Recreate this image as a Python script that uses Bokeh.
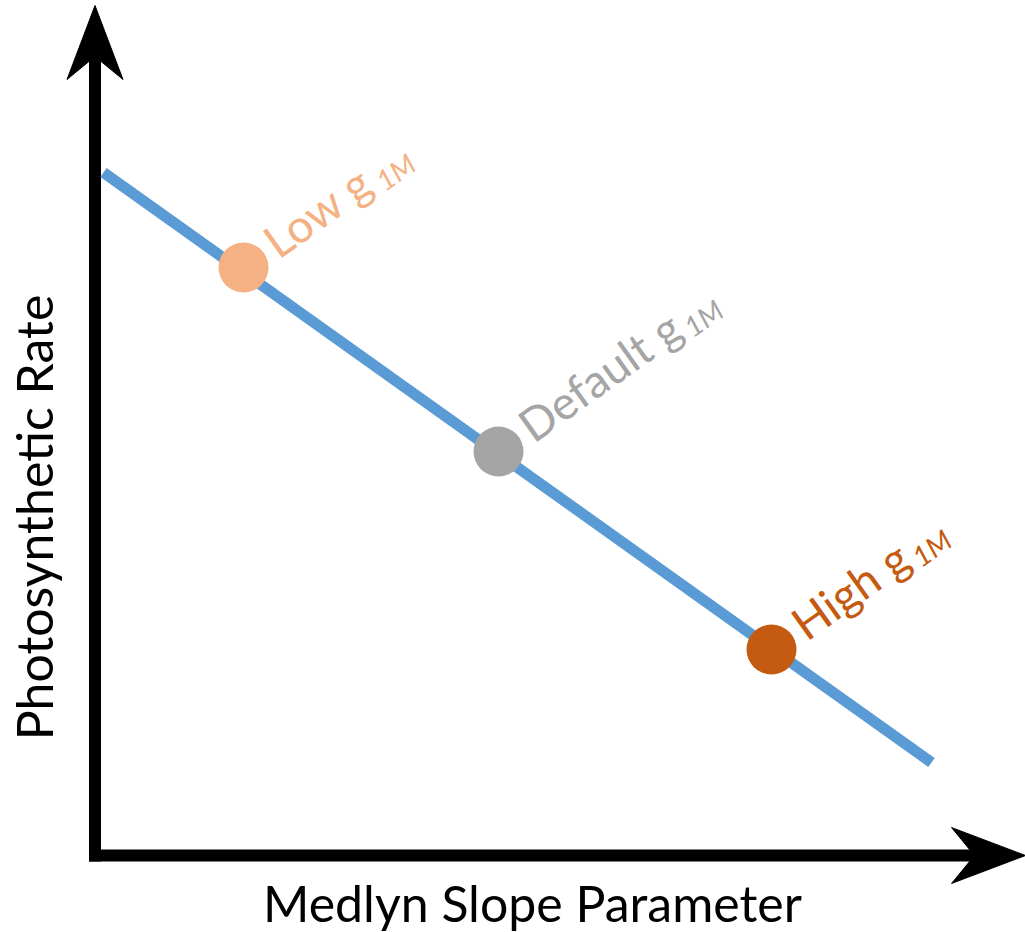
import numpy as np
from bokeh.plotting import figure
from bokeh.models import Range1d, ColumnDataSource
from bokeh.core.properties import value
from bokeh.embed import file_html
from bokeh.resources import INLINE

W, H = 1025, 932
FONT = "Lato"

# ---- data (screen-like units, y pointing up) ----
line_x = [103, 931]
line_y = [760, 170]

labels = ["Low", "Default", "High"]
point_x = [243, 498, 771]
point_y = [665, 481, 283]
point_colors = ["#F4B183", "#A5A5A5", "#C55A11"]
main_text = ["Low g", "Default g", "High g"]
sub_text = ["1M", "1M", "1M"]
sub_along = [159, 224, 169]

x_label = "Medlyn Slope Parameter"
y_label = "Photosynthetic Rate"

# axis geometry
origin_x, origin_y = 94.5, 77
x_tip, y_tip = 1025, 927
head_len, head_notch, head_half = 74, 51, 28
axis_w = 12

p = figure(width=W, height=H, x_range=Range1d(0, W), y_range=Range1d(0, H),
           output_backend="svg", toolbar_location=None, min_border=0)
p.axis.visible = False
p.grid.visible = False
p.outline_line_color = None

# axis shafts
p.segment(x0=[origin_x, origin_x - axis_w / 2], y0=[origin_y - axis_w / 2, origin_y],
          x1=[origin_x, x_tip - head_notch + 2], y1=[y_tip - head_notch + 2, origin_y],
          line_color="black", line_width=axis_w, line_cap="butt")
# arrowheads
hx = [[origin_x, origin_x - head_half, origin_x, origin_x + head_half],
      [x_tip, x_tip - head_len, x_tip - head_notch, x_tip - head_len]]
hy = [[y_tip, y_tip - head_len, y_tip - head_notch, y_tip - head_len],
      [origin_y, origin_y + head_half, origin_y, origin_y - head_half]]
p.patches(hx, hy, fill_color="black", line_color="black", line_width=1)

# main line
p.line(line_x, line_y, line_color="#5B9BD5", line_width=11, line_cap="butt")

# points
p.scatter(point_x, point_y, size=50, fill_color=point_colors, line_color=None)

# labels rotated along the line (counter-clockwise, up-right)
ang = abs(np.arctan2(line_y[1] - line_y[0], line_x[1] - line_x[0]))
ux, uy = np.cos(ang), np.sin(ang)
vx, vy = -np.sin(ang), np.cos(ang)
along0, perp0 = 33, 3
perp_sub = perp0 - 13
px = np.array(point_x, float)
py = np.array(point_y, float)
mx = px + along0 * ux + perp0 * vx
my = py + along0 * uy + perp0 * vy
sa = np.array(sub_along, float)
sx = px + sa * ux + perp_sub * vx
sy = py + sa * uy + perp_sub * vy

src_main = ColumnDataSource(dict(x=mx, y=my, t=main_text, c=point_colors))
src_sub = ColumnDataSource(dict(x=sx, y=sy, t=sub_text, c=point_colors))
p.text(x="x", y="y", text="t", source=src_main, angle=ang, text_color="c",
       text_font=value(FONT), text_font_size="46px", text_align="left",
       text_baseline="alphabetic")
p.text(x="x", y="y", text="t", source=src_sub, angle=ang, text_color="c",
       text_font=value(FONT), text_font_size="28px", text_font_style="italic",
       text_align="left", text_baseline="alphabetic")

# axis titles
p.text(x=[532], y=[30], text=[x_label], text_font=value(FONT), text_font_size="50px",
       text_align="center", text_baseline="alphabetic", text_color="black")
p.text(x=[33], y=[415], text=[y_label], angle=np.pi / 2, text_font=value(FONT),
       text_font_size="50px", text_align="center", text_baseline="alphabetic",
       text_color="black")

open("out.html", "w").write(file_html(p, INLINE))
